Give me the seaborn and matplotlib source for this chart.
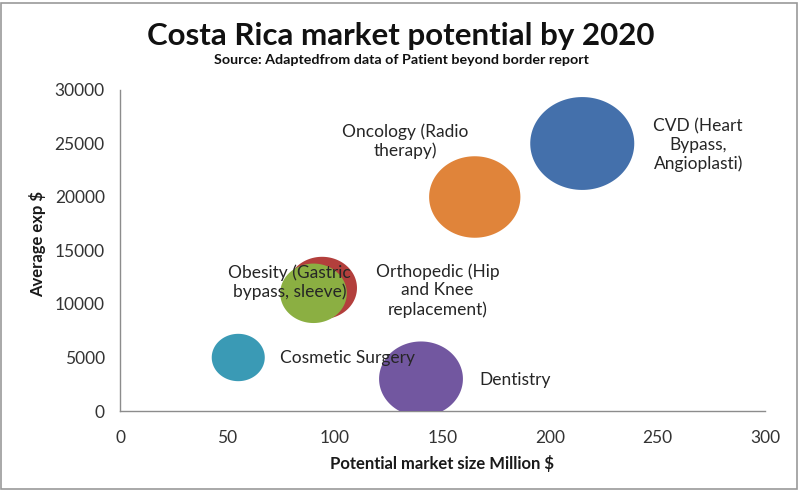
import numpy as np
import pandas as pd
import matplotlib
matplotlib.use("Agg")
import matplotlib.pyplot as plt
from matplotlib.path import Path
from matplotlib.patches import Rectangle
import seaborn as sns

# Procedures, their market size, average spend and bubble weight
procedures = [
    "CVD (Heart\nBypass,\nAngioplasti)",
    "Oncology (Radio\ntherapy)",
    "Orthopedic (Hip\nand Knee\nreplacement)",
    "Obesity (Gastric\nbypass, sleeve)",
    "Cosmetic Surgery",
    "Dentistry",
]
market_size = [215, 165, 94, 90, 55, 140]               # Million $
average_exp = [25000, 20000, 11500, 11000, 5000, 3000]  # $
bubble_weight = [100, 77, 45, 41, 26, 65]

bubble_colors = ["#4470AB", "#E0843A", "#B33F3C", "#8BAF42", "#3A9AB5", "#7257A0"]

x_ticks = [0, 50, 100, 150, 200, 250, 300]
y_ticks = [0, 5000, 10000, 15000, 20000, 25000, 30000]

df = pd.DataFrame({
    "procedure": procedures,
    "market": market_size,
    "avg": average_exp,
    "weight": bubble_weight,
})

sns.set_style("white")
plt.rcParams["font.family"] = ["Lato", "DejaVu Sans"]

fig = plt.figure(figsize=(8.01, 4.91), dpi=100)
W, H = 801, 491
x0, x1, y0, y1 = 120, 765, 411, 90
ax = fig.add_axes([x0 / W, (H - y0) / H, (x1 - x0) / W, (y0 - y1) / H])

# Slightly wide elliptical bubble marker
t = np.linspace(0, 2 * np.pi, 120)
ellipse = Path(np.column_stack([1.12 * np.cos(t), np.sin(t)]), closed=True)

sns.scatterplot(
    data=df, x="market", y="avg",
    hue="procedure", palette=dict(zip(procedures, bubble_colors)),
    size="weight", sizes=(0, 5610), size_norm=(0, 100),
    marker=ellipse, linewidth=0, edgecolor="none", alpha=1.0,
    legend=False, ax=ax, zorder=3,
)

# Bubble labels (offsets in points from bubble centre)
label_offsets = [(83.5, -1.4), (-50, 40.3), (83, -1.8), (-17.3, 7.9), (78.8, 0), (67.7, -1.1)]
for name, xv, yv, off in zip(procedures, market_size, average_exp, label_offsets):
    ax.annotate(name, (xv, yv), xytext=off, textcoords="offset points",
                ha="center", va="center", multialignment="center",
                fontsize=12.5, color="#262626", linespacing=1.2, zorder=5)

ax.set_xlim(0, 300)
ax.set_ylim(0, 30000)
ax.set_xticks(x_ticks)
ax.set_yticks(y_ticks)
ax.set_xticklabels([str(v) for v in x_ticks])
ax.set_yticklabels([str(v) for v in y_ticks])
ax.tick_params(axis="both", length=0, labelsize=12.5, labelcolor="#333333")
ax.tick_params(axis="y", pad=11)
ax.tick_params(axis="x", pad=14)

for side in ["top", "right"]:
    ax.spines[side].set_visible(False)
for side in ["left", "bottom"]:
    ax.spines[side].set_color("#8C8C8C")
    ax.spines[side].set_linewidth(1.0)
ax.grid(False)

ax.set_xlabel("Potential market size Million $", fontsize=12, fontweight="bold",
              color="#1a1a1a")
ax.set_ylabel("Average exp $", fontsize=12, fontweight="bold", color="#1a1a1a")
ax.xaxis.label.set_va("center")
ax.yaxis.label.set_va("center")
ax.xaxis.set_label_coords((442 - x0) / (x1 - x0), (y0 - 463) / (y0 - y1))
ax.yaxis.set_label_coords((38 - x0) / (x1 - x0), (y0 - 244) / (y0 - y1))

fig.text(401 / W, 1 - 36 / H, "Costa Rica market potential by 2020",
         ha="center", va="center", fontsize=22.5, fontweight="bold", color="#111111")
fig.text(401 / W, 1 - 59.5 / H, "Source: Adaptedfrom data of Patient beyond border report",
         ha="center", va="center", fontsize=10.3, fontweight="bold", color="#111111")

# Outer frame
fig.patches.append(Rectangle((1 / W, 2 / H), 796 / W, 486 / H, transform=fig.transFigure,
                             fill=False, edgecolor="#9A9A9A", linewidth=1.2))

fig.savefig("out.png", dpi=100)
